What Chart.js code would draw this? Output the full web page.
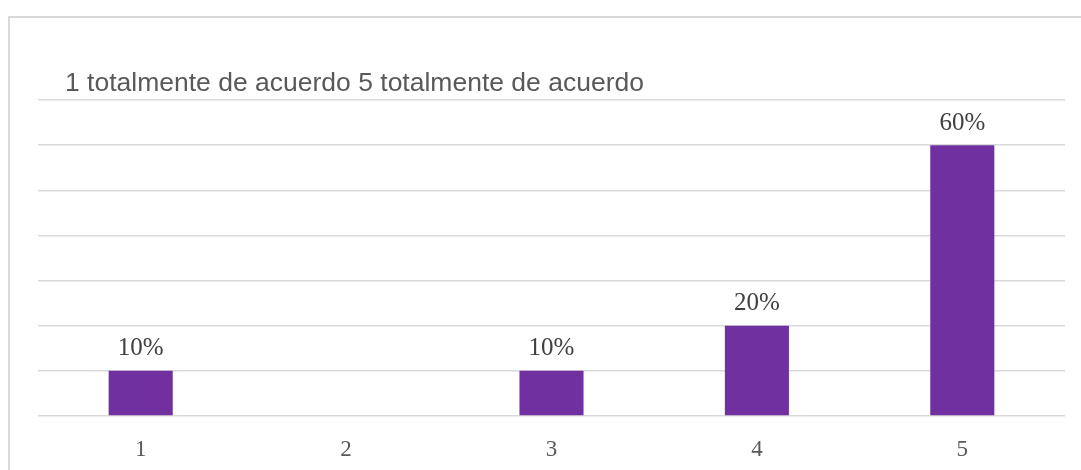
<!DOCTYPE html>
<html>
<head>
<meta charset="utf-8">
<script src="https://cdn.jsdelivr.net/npm/chart.js@4/dist/chart.umd.min.js"></script>
<style>
  html, body { margin: 0; padding: 0; background: #ffffff; overflow: hidden; }
  #wrap { position: relative; width: 1081px; height: 470px; overflow: hidden; }
  #frame { position: absolute; left: 8px; top: 16px; width: 1200px; height: 600px; border: 2px solid #d9d9d9; box-sizing: border-box; }
  #c { position: absolute; left: 0; top: 0; }
</style>
</head>
<body>
<div id="wrap">
  <div id="frame"></div>
  <canvas id="c" width="1081" height="470"></canvas>
</div>
<script>
const chartTitle = "1 totalmente de acuerdo 5 totalmente de acuerdo";
const categories = ["1", "2", "3", "4", "5"];
const percentValues = [10, 0, 10, 20, 60];
const yMax = 70;
const yStep = 10;

const titlePlugin = {
  id: 'leftTitle',
  afterDraw(chart) {
    const ctx = chart.ctx;
    ctx.save();
    ctx.font = '26.5px "Liberation Sans", Arial, sans-serif';
    ctx.fillStyle = '#595959';
    ctx.textAlign = 'left';
    ctx.textBaseline = 'alphabetic';
    ctx.fillText(chartTitle, 65, 91);
    ctx.restore();
  }
};

const labelPlugin = {
  id: 'barLabels',
  afterDatasetsDraw(chart) {
    const ctx = chart.ctx;
    const meta = chart.getDatasetMeta(0);
    ctx.save();
    ctx.font = '25px "Liberation Serif", "DejaVu Serif", serif';
    ctx.fillStyle = '#404040';
    ctx.textAlign = 'center';
    ctx.textBaseline = 'middle';
    meta.data.forEach((bar, i) => {
      const v = percentValues[i];
      if (!v) return;
      ctx.fillText(v + '%', bar.x, bar.y - 22);
    });
    ctx.restore();
  }
};

new Chart(document.getElementById('c'), {
  type: 'bar',
  data: {
    labels: categories,
    datasets: [{
      data: percentValues,
      backgroundColor: '#7030A0',
      borderWidth: 0,
      barPercentage: 0.312,
      categoryPercentage: 1.0
    }]
  },
  options: {
    responsive: false,
    animation: false,
    devicePixelRatio: 1,
    layout: { padding: { left: 38, right: 16, top: 100, bottom: 0 } },
    plugins: { legend: { display: false }, tooltip: { enabled: false }, title: { display: false } },
    scales: {
      x: {
        grid: { display: false, drawTicks: false },
        border: { display: false },
        ticks: {
          font: { family: '"Liberation Serif", "DejaVu Serif", serif', size: 23 },
          color: '#595959',
          padding: 20,
          maxRotation: 0
        },
        afterFit(scale) { scale.height = 54; }
      },
      y: {
        min: 0,
        max: yMax,
        ticks: { display: false, stepSize: yStep },
        grid: { color: '#d9d9d9', lineWidth: 1.5, drawTicks: false },
        border: { display: false }
      }
    }
  },
  plugins: [titlePlugin, labelPlugin]
});
</script>
</body>
</html>
